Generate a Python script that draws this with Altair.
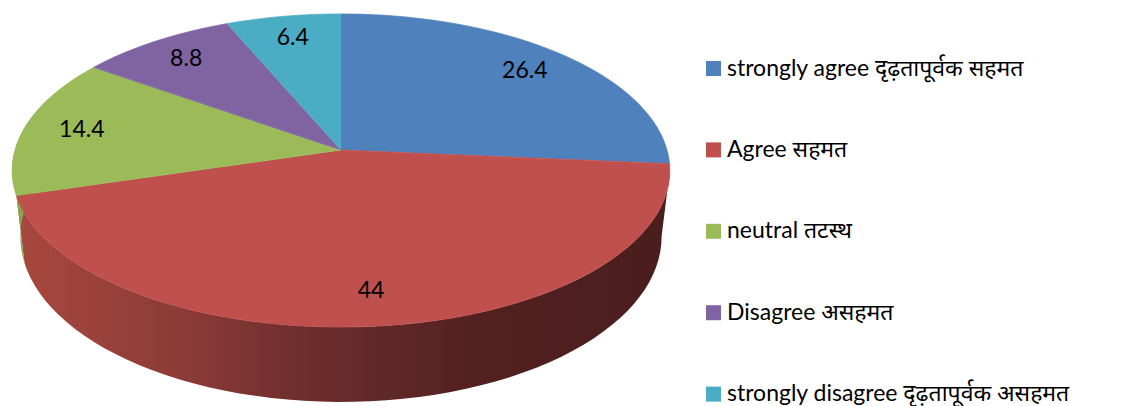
import altair as alt
import pandas as pd

# ---- data ----
categories = [
    "strongly agree दृढ़तापूर्वक सहमत",
    "Agree सहमत",
    "neutral तटस्थ",
    "Disagree असहमत",
    "strongly disagree दृढ़तापूर्वक असहमत",
]
values = [26.4, 44, 14.4, 8.8, 6.4]
colors = ["#4f81bd", "#c0504d", "#9bbb59", "#8064a2", "#4bacc6"]

df = pd.DataFrame({"cat": categories, "value": values, "idx": list(range(len(values)))})

# ---- 3-D projection parameters (layout only) ----
CX, CY = 341, 150      # projected pie centre
K = 0.131              # perspective factor
SX, SY = 326, 153.9    # horizontal / vertical radii
SBX = 0.975            # bottom rim narrowing
D = 65                 # depth of the pie
F = 0.82               # label radius fraction
LO, HI = 1.70, 5.06    # angular range of visible side (rad)

W, H = 1115, 398
xs = alt.Scale(domain=[8, 8 + W], nice=False, zero=False)
ys = alt.Scale(domain=[8, 8 + H], nice=False, zero=False, reverse=True)
X = alt.X("px:Q", scale=xs, axis=None)
Y = alt.Y("py:Q", scale=ys, axis=None)

base = (
    alt.Chart(df)
    .transform_joinaggregate(total="sum(value)")
    .transform_window(cum="sum(value)", sort=[alt.SortField("idx")], frame=[None, 0])
    .transform_calculate(
        a0="(datum.cum - datum.value) / datum.total * 2 * PI",
        a1="datum.cum / datum.total * 2 * PI",
    )
)

# ---- side walls ----
side_base = (
    base.transform_calculate(b0=f"max(datum.a0, {LO})", b1=f"min(datum.a1, {HI})")
    .transform_filter("datum.b1 > datum.b0")
    .transform_calculate(seq="sequence(0, 122)")
    .transform_flatten(["seq"], as_=["i"])
    .transform_calculate(
        th="datum.i <= 60 ? datum.b0 + datum.i / 60 * (datum.b1 - datum.b0)"
           " : datum.b1 - (datum.i - 61) / 60 * (datum.b1 - datum.b0)"
    )
    .transform_calculate(w=f"1 + {K} * cos(datum.th)")
    .transform_calculate(
        px=f"datum.i <= 60 ? {CX} + {SX} * sin(datum.th) / datum.w"
           f" : {CX} + {SBX} * {SX} * sin(datum.th) / datum.w",
        py=f"datum.i <= 60 ? {CY} - {SY} * cos(datum.th) / datum.w"
           f" : {CY} - {SY} * cos(datum.th) / datum.w + {D} / datum.w",
    )
)

red_grad = alt.LinearGradient(
    gradient="linear", x1=0, x2=1, y1=0, y2=0,
    stops=[
        alt.GradientStop(color="#a8483f", offset=0),
        alt.GradientStop(color="#8a3a37", offset=0.27),
        alt.GradientStop(color="#6d2e2d", offset=0.44),
        alt.GradientStop(color="#51201f", offset=0.72),
        alt.GradientStop(color="#4a1e1e", offset=1),
    ],
)

side_red = side_base.transform_filter(alt.datum.cat == categories[1]).mark_line(
    filled=True, fill=red_grad
).encode(x=X, y=Y, order="i:Q", detail="cat:N")
side_green = side_base.transform_filter(alt.datum.cat == categories[2]).mark_line(
    filled=True, fill="#86a44c"
).encode(x=X, y=Y, order="i:Q", detail="cat:N")

# ---- top faces ----
cscale = alt.Scale(domain=categories, range=colors)
top = (
    base.transform_calculate(seq="sequence(0, 62)")
    .transform_flatten(["seq"], as_=["i"])
    .transform_calculate(th="datum.a0 + (max(datum.i, 1) - 1) / 60 * (datum.a1 - datum.a0)")
    .transform_calculate(w=f"1 + {K} * cos(datum.th)")
    .transform_calculate(
        px=f"datum.i == 0 ? {CX} : {CX} + {SX} * sin(datum.th) / datum.w",
        py=f"datum.i == 0 ? {CY} : {CY} - {SY} * cos(datum.th) / datum.w",
    )
    .mark_line(filled=True, strokeWidth=0.7)
    .encode(
        x=X,
        y=Y,
        order="i:Q",
        detail="cat:N",
        color=alt.Color(
            "cat:N",
            scale=cscale,
            legend=alt.Legend(
                orient="none",
                legendX=694,
                legendY=49,
                title=None,
                symbolType="square",
                symbolSize=225,
                symbolStrokeWidth=0,
                labelFont="Lato, 'Noto Sans', sans-serif",
                labelFontSize=23,
                labelColor="#000000",
                labelLimit=0,
                labelOffset=2,
                rowPadding=57.4,
            ),
        ),
        stroke=alt.Stroke("cat:N", scale=cscale, legend=None),
    )
)

# ---- value labels ----
labels = (
    base.transform_calculate(mid="(datum.a0 + datum.a1) / 2", lbl="toString(datum.value)")
    .transform_calculate(w=f"1 + {K} * {F} * cos(datum.mid)")
    .transform_calculate(
        px=f"{CX} + {SX} * {F} * sin(datum.mid) / datum.w",
        py=f"{CY} - {SY} * {F} * cos(datum.mid) / datum.w",
    )
    .mark_text(font="Lato", fontSize=23, color="#000000", align="center", baseline="middle")
    .encode(x=X, y=Y, text="lbl:N")
)

chart = (
    alt.layer(side_red, side_green, top, labels)
    .properties(width=W, height=H, padding=0, autosize=alt.AutoSizeParams(type="none"))
    .configure_view(stroke=None, fill=None)
)

chart.save("out.html", embed_options={"renderer": "svg", "actions": False})
